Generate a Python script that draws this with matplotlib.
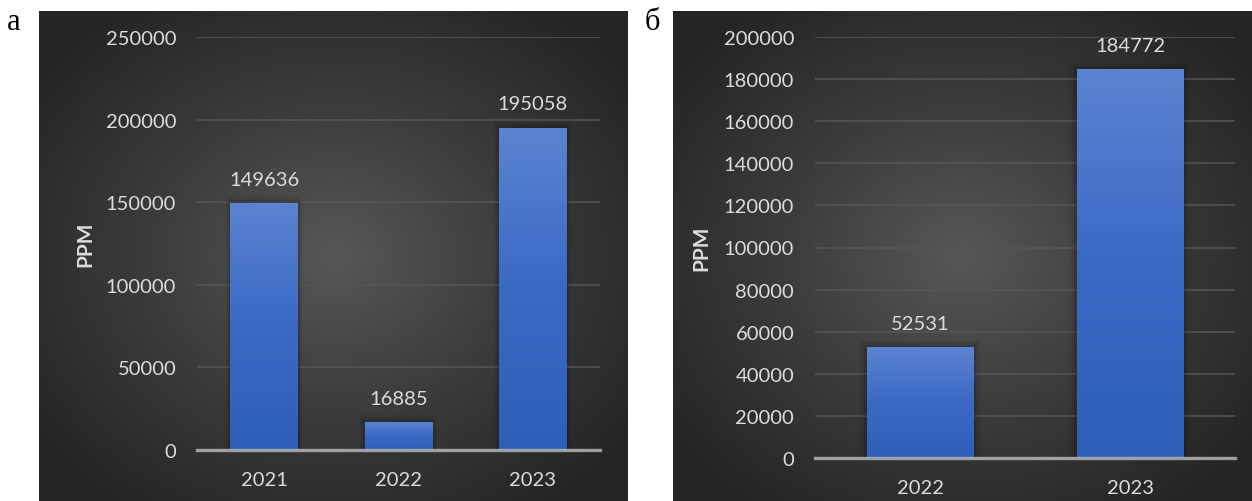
import numpy as np
import matplotlib
matplotlib.use("Agg")
import matplotlib.pyplot as plt
from matplotlib.colors import LinearSegmentedColormap

# Data
years_a = ["2021", "2022", "2023"]
ppm_a = [149636, 16885, 195058]
ticks_a = [0, 50000, 100000, 150000, 200000, 250000]

years_b = ["2022", "2023"]
ppm_b = [52531, 184772]
ticks_b = [0, 20000, 40000, 60000, 80000, 100000, 120000, 140000, 160000, 180000, 200000]

W, H = 1252, 502
fig = plt.figure(figsize=(W / 100, H / 100), dpi=100)
fig.patch.set_facecolor("white")

FONT = "Lato"
TXT = "#dcdcdc"


def px_rect(x0, y0, x1, y1):
    """Figure-fraction rect from pixel box (y measured from top)."""
    return [x0 / W, 1 - y1 / H, (x1 - x0) / W, (y1 - y0) / H]


bg_cmap = LinearSegmentedColormap.from_list("bg", ["#575757", "#3c3c3c", "#252525"])
bar_cmap = LinearSegmentedColormap.from_list("bar", ["#2d5fb8", "#3a69c4", "#5b83d0"])


def background(box):
    bax = fig.add_axes(px_rect(*box), zorder=0)
    w = box[2] - box[0]
    h = box[3] - box[1]
    yy, xx = np.mgrid[0:h, 0:w]
    r = np.sqrt(((xx - w * 0.5) / (w * 0.62)) ** 2 + ((yy - h * 0.5) / (h * 0.62)) ** 2)
    bax.imshow(np.clip(r, 0, 1), cmap=bg_cmap, vmin=0, vmax=1, aspect="auto",
               interpolation="bilinear")
    bax.set_axis_off()


def panel(box, cats, vals, ticks, ylabel_x):
    ax = fig.add_axes(px_rect(*box), zorder=1)
    ax.patch.set_alpha(0)
    x = np.arange(len(cats))
    bars = ax.bar(x, vals, width=0.505, color="#3d6cc6", zorder=3)
    ax.set_xlim(-0.5, len(cats) - 0.5)
    ax.set_ylim(0, ticks[-1])
    # vertical gradient fill in every bar
    grad = np.linspace(0, 1, 256).reshape(-1, 1)
    for b in bars:
        bx, by = b.get_x(), b.get_y()
        bw, bh = b.get_width(), b.get_height()
        # soft shadow
        for k, a in enumerate([0.10, 0.07, 0.04]):
            d = 0.012 * (k + 1)
            ax.add_patch(plt.Rectangle((bx - d, by), bw + 2 * d, bh + ticks[-1] * d * 0.5,
                                       color="black", alpha=a, lw=0, zorder=2))
        im = ax.imshow(grad, cmap=bar_cmap, extent=(bx, bx + bw, by, by + bh),
                       origin="lower", aspect="auto", zorder=3.5, interpolation="bilinear")
        im.set_clip_path(b)
        ax.annotate(f"{int(b.get_height())}", (bx + bw / 2, by + bh),
                    xytext=(0, 11), textcoords="offset points", ha="center", va="bottom",
                    color=TXT, fontsize=14.5, family=FONT, zorder=5)
    ax.set_yticks(ticks)
    ax.set_yticklabels([str(t) for t in ticks])
    ax.set_xticks(x)
    ax.set_xticklabels(cats)
    ax.tick_params(axis="both", length=0, colors=TXT, labelsize=14.5)
    ax.tick_params(axis="y", pad=15)
    ax.tick_params(axis="x", pad=15)
    for lab in ax.get_xticklabels() + ax.get_yticklabels():
        lab.set_family(FONT)
    ax.grid(axis="y", color="#565656", lw=1.1, zorder=1)
    ax.set_axisbelow(True)
    for s in ax.spines.values():
        s.set_visible(False)
    ax.axhline(0, color="#c4c4c4", alpha=0.75, lw=2.4, zorder=4, clip_on=False)
    cy = 1 - ((box[1] + box[3]) / 2) / H
    fig.text(ylabel_x / W, cy, "PPM", rotation=90, ha="center", va="center",
             color=TXT, fontsize=15, fontweight="bold", family=FONT)
    return ax


# panel a
background((39, 12, 628, 502))
panel((197, 38, 600, 451), years_a, ppm_a, ticks_a, 85)

# panel b
background((673, 12, 1252, 502))
panel((815, 38, 1235, 459), years_b, ppm_b, ticks_b, 701)

fig.text(14 / W, 1 - 22 / H, "а", ha="center", va="center", fontsize=22,
         family="Liberation Serif", color="black")
fig.text(652 / W, 1 - 22 / H, "б", ha="center", va="center", fontsize=22,
         family="Liberation Serif", color="black")

fig.savefig("out.png", dpi=100, facecolor="white")
